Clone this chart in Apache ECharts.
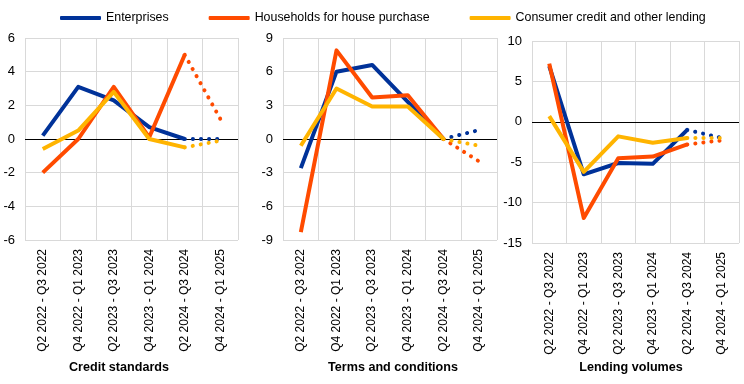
<!DOCTYPE html>
<html>
<head>
<meta charset="utf-8">
<script src="https://cdn.jsdelivr.net/npm/echarts@6/dist/echarts.min.js"></script>
<style>
html,body{margin:0;padding:0;background:#fff;}
#chart{width:744px;height:384px;}
</style>
</head>
<body>
<div id="chart"></div>
<script>
const categories = ["Q2 2022 - Q3 2022", "Q4 2022 - Q1 2023", "Q2 2023 - Q3 2023", "Q4 2023 - Q1 2024", "Q2 2024 - Q3 2024", "Q4 2024 - Q1 2025"];
const seriesNames = ["Enterprises", "Households for house purchase", "Consumer credit and other lending"];
const panelTitles = ["Credit standards", "Terms and conditions", "Lending volumes"];

const creditEnterprises = [0.2, 3.1, 2.3, 0.7, 0.0, 0.0];
const creditHouseholds  = [-2.0, 0.0, 3.1, 0.1, 5.0, 1.2];
const creditConsumer    = [-0.6, 0.5, 2.8, 0.0, -0.5, -0.1];

const termsEnterprises  = [-2.6, 6.0, 6.6, 3.3, 0.0, 0.8];
const termsHouseholds   = [-8.3, 7.9, 3.7, 3.9, 0.0, -2.0];
const termsConsumer     = [-0.6, 4.5, 2.9, 2.9, 0.0, -0.6];

const volumeEnterprises = [6.9, -6.5, -5.1, -5.2, -1.0, -2.0];
const volumeHouseholds  = [7.2, -11.9, -4.5, -4.3, -2.8, -2.3];
const volumeConsumer    = [0.7, -6.2, -1.8, -2.6, -2.0, -2.0];

const yMin = [-6, -9, -15];
const yMax = [6, 9, 10];
const yInterval = [2, 3, 5];

const colors = ["#003299", "#FF4B00", "#FFB400"];
const FONT = "'Liberation Sans', Arial, sans-serif";

const panels = [
  [creditEnterprises, creditHouseholds, creditConsumer],
  [termsEnterprises, termsHouseholds, termsConsumer],
  [volumeEnterprises, volumeHouseholds, volumeConsumer]
];

const grids = [
  {left: 25, top: 38, width: 213, height: 202},
  {left: 283, top: 38, width: 214, height: 202},
  {left: 532, top: 41, width: 207, height: 202}
];
const titlePos = [[119, 368], [393, 368], [631, 368]];

const xAxes = [], yAxes = [], series = [];
panels.forEach((p, gi) => {
  xAxes.push({
    type: 'category', gridIndex: gi, data: categories, boundaryGap: true,
    axisLine: {show: false, onZero: false}, axisTick: {show: false},
    axisLabel: {rotate: 90, fontSize: 12, color: '#000', fontFamily: FONT, margin: 9},
    splitLine: {show: true, lineStyle: {color: '#d9d9d9', width: 1}}
  });
  yAxes.push({
    type: 'value', gridIndex: gi, min: yMin[gi], max: yMax[gi], interval: yInterval[gi],
    axisLine: {show: false}, axisTick: {show: false},
    axisLabel: {fontSize: 13, color: '#000', fontFamily: FONT, margin: 10},
    splitLine: {show: true, lineStyle: {color: '#d9d9d9', width: 1}}
  });
  p.forEach((vals, si) => {
    const solid = vals.map((v, i) => i < 5 ? v : null);
    const dotted = vals.map((v, i) => i >= 4 ? v : null);
    series.push({
      name: seriesNames[si], type: 'line', xAxisIndex: gi, yAxisIndex: gi,
      data: solid, symbol: 'none', connectNulls: false, z: 3,
      lineStyle: {color: colors[si], width: 4, join: 'round'},
      itemStyle: {color: colors[si]},
      markLine: si === 0 ? {
        silent: true, symbol: 'none', label: {show: false},
        lineStyle: {color: '#000', type: 'solid', width: 1},
        data: [{yAxis: 0}], z: 2
      } : undefined
    });
    series.push({
      name: seriesNames[si] + ' (expected)', type: 'line', xAxisIndex: gi, yAxisIndex: gi,
      data: dotted, symbol: 'none', z: 3,
      lineStyle: {color: colors[si], width: 4, type: [0.1, 8], cap: 'round'},
      itemStyle: {color: colors[si]}
    });
  });
});

const chart = echarts.init(document.getElementById('chart'), null, {renderer: 'canvas'});
chart.setOption({
  animation: false,
  backgroundColor: '#fff',
  legend: {
    data: seriesNames.map((n, i) => ({name: n, itemStyle: {color: colors[i]}})),
    left: 55, top: 7, itemWidth: 41, itemHeight: 4, itemGap: 40,
    icon: 'roundRect',
    textStyle: {fontSize: 12.4, color: '#000', fontFamily: FONT},
    selectedMode: false
  },
  grid: grids,
  xAxis: xAxes,
  yAxis: yAxes,
  series: series,
  graphic: panelTitles.map((t, i) => ({
    type: 'text', x: titlePos[i][0], y: titlePos[i][1],
    style: {text: t, textAlign: 'center', textVerticalAlign: 'middle', fontSize: 12.6, fontWeight: 'bold', fontFamily: FONT, fill: '#000'}
  }))
});
</script>
</body>
</html>
